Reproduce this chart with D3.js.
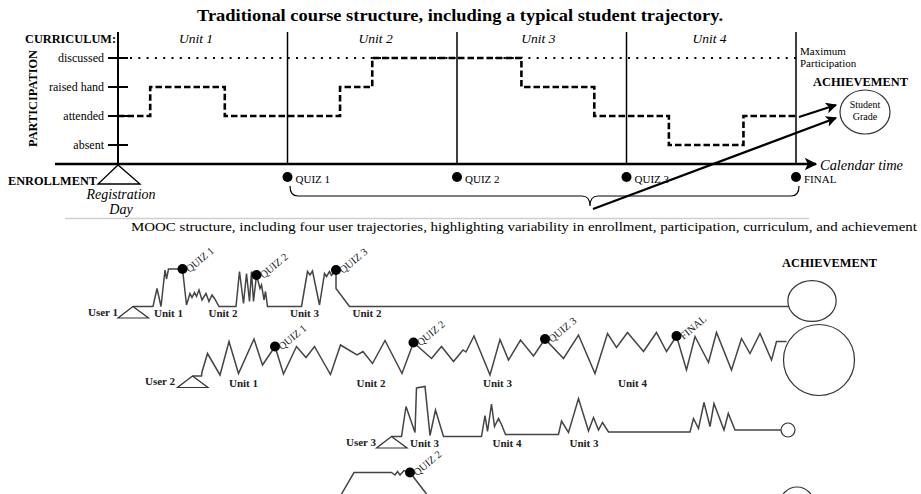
<!DOCTYPE html>
<html><head><meta charset="utf-8">
<script src="https://cdn.jsdelivr.net/npm/d3@7"></script>
<style>html,body{margin:0;padding:0;background:#fff;}svg{display:block;font-family:"Liberation Serif","Times New Roman",serif;}</style>
</head><body><svg id="c" width="921" height="494"></svg>
<script>
// ---------- DATA ----------
const units = ["Unit 1","Unit 2","Unit 3","Unit 4"];
const unitLabelPos = [0.46, 1.52, 2.48, 3.49];
const levels = ["absent","attended","raised hand","discussed"];
const assessments = ["QUIZ 1","QUIZ 2","QUIZ 3","FINAL"];
const assessmentTimes = [1,2,3,4];
const studentTimes  = [0,0.19,0.63,1.31,1.5,2.38,2.81,3.25,3.69,4];
const studentLevels = ["attended","raised hand","attended","raised hand","discussed","raised hand","attended","absent","attended","attended"];

const userNames = ["User 1","User 2","User 3","User 4"];
const userEnroll = [33, 92.5, 291.5, null];
const userNameT = [18, 75, 276, null];
const user1Path = [[33,0],[53,0],[57,18],[61,0],[65,36.5],[66.5,27.5],[68.5,37.5],[82.5,37.5],[86.5,1.5],[90,13],[92,9],[94.5,14],[96.5,10],[99,16.5],[102,6.5],[106,13],[109,5],[112,11.5],[114.5,8],[119,0],[136,0],[139.5,35],[143.5,3],[146.5,33],[149.5,5],[151.5,35],[153.5,5],[156.5,31.5],[160,18],[161.5,21.5],[164,6.5],[165.5,15],[167.5,0],[201.5,0],[207.5,35],[210,31.5],[212.5,35.5],[219.5,1.5],[224.5,33],[226.5,30],[229.5,35],[231.5,31],[236,36.5],[236,18],[249.5,0],[689,0]];
const user2Path = [[92.5,0],[101.5,0],[102,4],[107.5,22.5],[120,1],[129,34.5],[138.5,2.5],[154,37],[162.5,11],[175,29.5],[183.5,2],[196.5,29.5],[206,18.5],[214.5,29.5],[230.5,1.5],[240.5,31],[257,21],[263,24.5],[272.5,12.5],[285,35.5],[302,2.5],[313.5,33.5],[331.5,17.5],[341.5,29.5],[353.5,14.5],[363,26],[366,24],[374,40],[390,1],[400,36.5],[408.5,16],[420.5,36],[433.5,20],[445,37],[463.5,17.5],[478.5,41],[495,2.5],[507.5,42.5],[516.5,28.5],[527.5,43.5],[543.5,24.5],[556.5,43.5],[566.5,24.5],[576.5,40],[586.5,6],[595,39.5],[608.5,13.5],[616.5,43.5],[631.5,6],[641.5,37.5],[650,22.5],[660,42.5],[671.5,16],[676.5,34.5],[686.5,34.5]];
const user3Path = [[291.5,0],[301.5,0],[306,30],[315,4],[316.5,48.5],[325,50],[330,1],[335.5,26.5],[343.5,0],[381.5,0],[385,21],[387.5,5],[391.5,32.5],[394.5,10],[398.5,18],[401.5,12],[405.5,2],[458.5,2],[461.5,15.5],[468.5,4],[478.5,38],[488.5,5.5],[493.5,19],[498.5,6.5],[502.5,14],[508.5,4.5],[590,4.5],[593.5,18],[598.5,8],[604,34],[610,10],[614,33],[624,6.5],[628.3,23],[635,6.5],[681,6.5]];
const user4Path = [[239.4,-4],[241.5,0],[254,21.5],[291.5,21.5],[295,19],[297.5,22.5],[300,19],[304,23.5],[310,21.5],[326.5,0],[329.7,-4]];
const userPaths = [user1Path,user2Path,user3Path,user4Path];
const userQuizzes = [
  [["QUIZ 1",82.5,37.5],["QUIZ 2",156.5,31.5],["QUIZ 3",236,36.5]],
  [["QUIZ 1",175,29.5],["QUIZ 2",313.5,33.5],["QUIZ 3",445,37],["FINAL",576.5,40]],
  [],
  [["QUIZ 2",310,21.5]]
];
const userUnits = [
  [["Unit 1",54],["Unit 2",108.5],["Unit 3",190],["Unit 2",252.5]],
  [["Unit 1",129],["Unit 2",256.5],["Unit 3",383],["Unit 4",518]],
  [["Unit 3",310],["Unit 4",392.5],["Unit 3",469.5]],
  []
];
const achievement = [23, 35.5, 7, 17];
const achieveT = [712, 719, 688, 697];
const achieveH = [5.5, 16, 6.5, -10];

// ---------- LAYOUT ----------
const svg = d3.select("#c");
const defs = svg.append("defs");
defs.append("marker").attr("id","ah").attr("viewBox","0 0 10 10").attr("refX",9).attr("refY",5)
  .attr("markerWidth",5).attr("markerHeight",5).attr("orient","auto").attr("markerUnits","strokeWidth")
  .append("path").attr("d","M0,0L10,5L0,10L2.5,5Z").attr("fill","#000");

const x = d3.scaleLinear().domain([0,4]).range([118,796]);
const y = d3.scalePoint().domain(levels).range([145,58]);
const axisTop = 32, axisBase = 164;

// title
svg.append("text").attr("x",197).attr("y",21).attr("font-weight","bold").attr("font-size",16)
  .attr("textLength",526).attr("lengthAdjust","spacingAndGlyphs")
  .text("Traditional course structure, including a typical student trajectory.");
svg.append("text").attr("x",25).attr("y",43).attr("font-weight","bold").attr("font-size",13)
  .attr("textLength",91).attr("lengthAdjust","spacingAndGlyphs").text("CURRICULUM:");

// unit lines
svg.append("g").selectAll("line").data([0,1,2,3,4]).join("line")
  .attr("x1",d=>x(d)).attr("x2",d=>x(d)).attr("y1",axisTop).attr("y2",axisBase)
  .attr("stroke","#000").attr("stroke-width",d=>d===0?2:1.5);
svg.append("g").selectAll("text").data(units).join("text")
  .attr("x",(d,i)=>x(unitLabelPos[i])).attr("y",43).attr("text-anchor","middle")
  .attr("font-style","italic").attr("font-size",13.5).text(d=>d);

// dotted max participation
svg.append("line").attr("x1",130).attr("x2",x(4)).attr("y1",y("discussed")).attr("y2",y("discussed"))
  .attr("stroke","#000").attr("stroke-width",2).attr("stroke-dasharray","2,6.3");

// y ticks and labels
const yt = svg.append("g");
yt.selectAll("line").data(levels).join("line").attr("x1",108).attr("x2",128)
  .attr("y1",d=>y(d)).attr("y2",d=>y(d)).attr("stroke","#000").attr("stroke-width",2);
yt.selectAll("text").data(levels).join("text").attr("x",104).attr("y",d=>y(d)+4)
  .attr("text-anchor","end").attr("font-size",12).text(d=>d);
svg.append("text").attr("transform","translate(37,98.5) rotate(-90)").attr("text-anchor","middle")
  .attr("font-weight","bold").attr("font-size",12).attr("textLength",97).attr("lengthAdjust","spacingAndGlyphs")
  .text("PARTICIPATION");

// student trajectory
const stepLine = d3.line().x(d=>x(d[0])).y(d=>y(d[1])).curve(d3.curveStepAfter);
svg.append("path").attr("d",stepLine(studentTimes.map((t,i)=>[t,studentLevels[i]])))
  .attr("fill","none").attr("stroke","#000").attr("stroke-width",2.6).attr("stroke-dasharray","6.5,3");

// baseline time axis
svg.append("line").attr("x1",55).attr("x2",816).attr("y1",axisBase).attr("y2",axisBase)
  .attr("stroke","#000").attr("stroke-width",2.5).attr("marker-end","url(#ah)");
svg.append("text").attr("x",820).attr("y",170).attr("font-style","italic").attr("font-size",14)
  .attr("textLength",83).attr("lengthAdjust","spacingAndGlyphs").text("Calendar time");

// enrollment
svg.append("path").attr("d",`M${x(0)},${axisBase+1}L${x(0)-20},184L${x(0)+22},184Z`)
  .attr("fill","#fff").attr("stroke","#000").attr("stroke-width",1.3);
svg.append("text").attr("x",8).attr("y",185).attr("font-weight","bold").attr("font-size",13)
  .attr("textLength",89).attr("lengthAdjust","spacingAndGlyphs").text("ENROLLMENT");
svg.append("text").attr("x",121).attr("y",199).attr("text-anchor","middle").attr("font-style","italic").attr("font-size",14).text("Registration");
svg.append("text").attr("x",121).attr("y",214).attr("text-anchor","middle").attr("font-style","italic").attr("font-size",14).text("Day");

// assessments
const ag = svg.append("g");
ag.selectAll("circle").data(assessmentTimes).join("circle").attr("cx",d=>x(d)).attr("cy",177).attr("r",5).attr("fill","#000");
ag.selectAll("text").data(assessments).join("text").attr("x",(d,i)=>x(assessmentTimes[i])+8).attr("y",182.5)
  .attr("font-size",11).text(d=>d);

// brace
svg.append("path").attr("d","M290,186 Q290,196 298,196 L582,196 Q590,196 590,206 Q590,196 598,196 L791,196 Q799,196 799,186")
  .attr("fill","none").attr("stroke","#000").attr("stroke-width",1.2);

// arrows to achievement
svg.append("line").attr("x1",593).attr("y1",209).attr("x2",836).attr("y2",118)
  .attr("stroke","#000").attr("stroke-width",2.2).attr("marker-end","url(#ah)");
svg.append("line").attr("x1",799).attr("y1",117).attr("x2",836).attr("y2",105)
  .attr("stroke","#000").attr("stroke-width",2.2).attr("marker-end","url(#ah)");

svg.append("text").attr("x",800).attr("y",55).attr("font-size",11).text("Maximum");
svg.append("text").attr("x",800).attr("y",67).attr("font-size",11).text("Participation");
svg.append("text").attr("x",813).attr("y",86).attr("font-weight","bold").attr("font-size",13)
  .attr("textLength",95).attr("lengthAdjust","spacingAndGlyphs").text("ACHIEVEMENT");
svg.append("ellipse").attr("cx",865).attr("cy",112).attr("rx",25).attr("ry",22)
  .attr("fill","#fff").attr("stroke","#333").attr("stroke-width",1.2);
svg.append("text").attr("x",865).attr("y",108).attr("text-anchor","middle").attr("font-size",10).text("Student");
svg.append("text").attr("x",865).attr("y",120).attr("text-anchor","middle").attr("font-size",10).text("Grade");

// separator + caption
svg.append("line").attr("x1",65).attr("x2",809).attr("y1",218.5).attr("y2",218.5).attr("stroke","#cfcfcf").attr("stroke-width",1.5);
svg.append("text").attr("x",131).attr("y",231).attr("font-size",12).attr("textLength",786).attr("lengthAdjust","spacingAndGlyphs")
  .text("MOOC structure, including four user trajectories, highlighting variability in enrollment, participation, curriculum, and achievement");

// ---------- MOOC ----------
const mx = d3.scaleLinear().domain([0,700]).range([100,800]);
const mh = d3.scaleLinear().domain([0,50]).range([0,50]);
const rowBase = [306.5, 376, 436.5, 494];
const rowAspect = [0.87, 1, 1, 1];
svg.append("text").attr("x",782).attr("y",267).attr("font-weight","bold").attr("font-size",13)
  .attr("textLength",95).attr("lengthAdjust","spacingAndGlyphs").text("ACHIEVEMENT");

userPaths.forEach((pts,i)=>{
  const b = rowBase[i];
  const g = svg.append("g");
  const line = d3.line().x(d=>mx(d[0])).y(d=>b-mh(d[1]));
  g.append("path").attr("d",line(pts)).attr("fill","none").attr("stroke","#444").attr("stroke-width",1.5).attr("stroke-linejoin","miter");
  if (userEnroll[i]!==null){
    const ex = mx(userEnroll[i]);
    g.append("path").attr("d",`M${ex},${b}L${ex-15},${b+11.5}L${ex+15.5},${b+11.5}Z`)
      .attr("fill","#fff").attr("stroke","#333").attr("stroke-width",1.2);
    g.append("text").attr("x",mx(userNameT[i])).attr("y",b+9).attr("text-anchor","end")
      .attr("font-weight","bold").attr("font-size",11).attr("fill","#222").text(userNames[i]);
  }
  g.selectAll("text.u").data(userUnits[i]).join("text").attr("class","u")
    .attr("x",d=>mx(d[1])).attr("y",b+10.5).attr("font-weight","bold").attr("font-size",11).attr("fill","#222").text(d=>d[0]);
  g.selectAll("circle.q").data(userQuizzes[i]).join("circle").attr("class","q")
    .attr("cx",d=>mx(d[1])).attr("cy",d=>b-mh(d[2])).attr("r",5).attr("fill","#000");
  g.selectAll("text.q").data(userQuizzes[i]).join("text").attr("class","q")
    .attr("transform",d=>`translate(${mx(d[1])+7},${b-mh(d[2])+4}) rotate(-40)`)
    .attr("font-size",10.5).attr("fill","#222").text(d=>d[0]);
  const r = achievement[i];
  g.append("ellipse").attr("cx",mx(achieveT[i])).attr("cy",b-mh(achieveH[i]))
    .attr("rx",r*(i===0?1.05:1)).attr("ry",r*rowAspect[i]*(i===0?1.02:1))
    .attr("fill","#fff").attr("stroke","#333").attr("stroke-width",1.2);
});
</script></body></html>
